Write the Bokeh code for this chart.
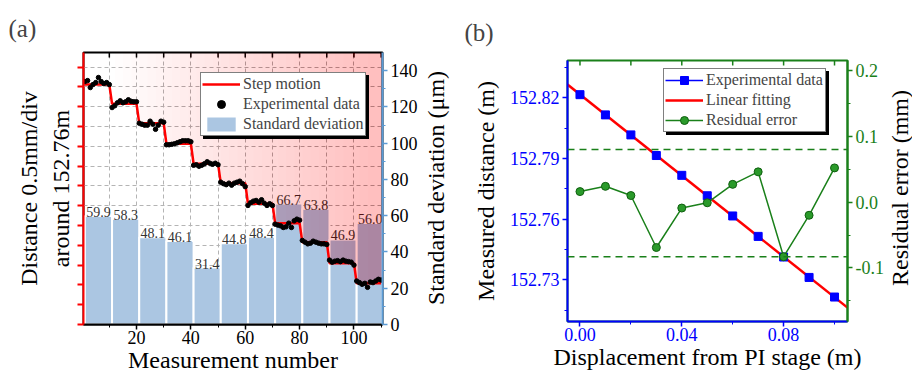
import math
import numpy as np
from bokeh.plotting import figure
from bokeh.models import (Range1d, LinearAxis, FixedTicker, Legend, LegendItem,
                          Span, CustomJSTickFormatter, ColumnDataSource, NumeralTickFormatter)
from bokeh.layouts import row, column
from bokeh.embed import file_html
from bokeh.resources import INLINE
from bokeh.core.properties import value

SERIF = "Liberation Serif"

# ---------------- panel (a) data ----------------
measurement_number = list(range(1, 111))
step_levels_mm = [6.06, 5.575, 5.085, 4.565, 4.06, 3.57, 3.05, 2.56, 2.08, 1.55, 1.04]
exp_points_mm = [
    6.136, 6.160, 5.985, 6.060, 6.110, 6.237, 6.136, 6.085, 6.110, 6.060,
    5.480, 5.525, 5.600, 5.650, 5.600, 5.625, 5.676, 5.638, 5.625, 5.625,
    5.085, 5.060, 5.035, 5.035, 5.135, 5.060, 4.930, 5.035, 5.135, 5.110,
    4.540, 4.540, 4.552, 4.565, 4.590, 4.616, 4.641, 4.641, 4.641, 4.616,
    4.022, 4.035, 3.997, 4.022, 4.060, 4.110, 4.073, 4.047, 4.073, 4.035,
    3.595, 3.557, 3.532, 3.570, 3.520, 3.570, 3.595, 3.620, 3.557, 3.482,
    3.007, 3.075, 3.116, 3.133, 3.090, 3.151, 3.065, 3.007, 3.050, 3.007,
    2.535, 2.510, 2.492, 2.451, 2.466, 2.560, 2.451, 2.618, 2.661, 2.636,
    2.123, 2.080, 2.037, 2.055, 2.105, 2.080, 2.055, 2.037, 2.037, 2.022,
    1.626, 1.575, 1.600, 1.613, 1.588, 1.626, 1.600, 1.588, 1.575, 1.500,
    1.098, 1.058, 1.015, 1.040, 0.939, 1.073, 1.058, 1.098, 1.141, 1.123,
]
std_dev_um = [59.9, 58.3, 48.1, 46.1, 31.4, 44.8, 48.4, 66.7, 63.8, 46.9, 56.0]
std_labels = ["59.9", "58.3", "48.1", "46.1", "31.4", "44.8", "48.4", "66.7", "63.8", "46.9", "56.0"]
x_ticks_a = [20, 40, 60, 80, 100]
top_ticks_a = [10, 20, 30, 40, 50, 60, 70, 80, 90, 100, 110]
std_ticks = [0, 20, 40, 60, 80, 100, 120, 140]

# ---------------- panel (b) data ----------------
displacement_m = [0.00, 0.01, 0.02, 0.03, 0.04, 0.05, 0.06, 0.07, 0.08, 0.09, 0.10]
measured_m = [152.8216, 152.8116, 152.8017, 152.7915, 152.7817, 152.7716,
              152.7616, 152.7515, 152.7413, 152.7312, 152.7215]
residual_mm = [0.016, 0.024, 0.010, -0.069, -0.009, -0.001, 0.027, 0.046, -0.083, -0.020, 0.052]
residual_limits_mm = [0.08, -0.083]
dist_ticks = [152.73, 152.76, 152.79, 152.82]
res_ticks = [-0.1, 0.0, 0.1, 0.2]
disp_ticks = [0.00, 0.04, 0.08]
top_ticks_b = [0.00, 0.02, 0.04, 0.06, 0.08, 0.10]


def style_title(p, text, offset, standoff):
    p.title.text = text
    p.title.align = "left"
    p.title.offset = offset
    p.title.text_font = SERIF
    p.title.text_font_size = "25px"
    p.title.text_font_style = "normal"
    p.title.standoff = standoff


def style_axis(ax, color, label_color, size="18px"):
    ax.axis_line_color = color
    ax.axis_line_width = 2
    ax.major_tick_line_color = color
    ax.minor_tick_line_color = color
    ax.major_tick_line_width = 1.5
    ax.major_tick_out = 5
    ax.major_tick_in = 0
    ax.minor_tick_out = 3
    ax.minor_tick_in = 0
    ax.major_label_text_color = label_color
    ax.major_label_text_font = SERIF
    ax.major_label_text_font_size = size
    ax.axis_label_text_font = SERIF
    ax.axis_label_text_font_size = "24px"
    ax.axis_label_text_font_style = "normal"
    ax.axis_label_text_color = "black"


def style_legend(leg, shadow=False, label_width=20):
    leg.label_text_font = SERIF
    leg.label_text_font_size = "16px"
    leg.glyph_width = 38
    leg.glyph_height = 20
    leg.label_height = 20
    leg.label_standoff = 3
    leg.spacing = 0
    leg.padding = 1
    leg.margin = 0
    leg.border_line_color = "black"
    leg.border_line_width = 1
    leg.background_fill_alpha = 1
    leg.click_policy = "none"
    leg.label_width = label_width
    if shadow:
        leg.background_fill_color = "black"
        leg.label_text_color = "black"


def title_strip(text, width):
    """Narrow figure that only carries a vertical (bottom-to-top) axis title."""
    s = figure(width=width, height=375, output_backend="svg", toolbar_location=None,
               title=None, x_range=Range1d(0, 1), y_range=Range1d(0, 1),
               min_border_left=0, min_border_right=0, min_border_top=0, min_border_bottom=0)
    s.xaxis.visible = False
    s.yaxis.visible = False
    s.xgrid.visible = False
    s.ygrid.visible = False
    s.outline_line_color = None
    s.text(x=[0.5], y=[0.5], text=[text], angle=math.pi / 2, text_align="center",
           text_baseline="middle", text_font=value(SERIF), text_font_size="24px",
           text_color="black")
    return s


# =============== panel (a) ===============
XA0, XA1 = 0.5, 110.5
YA0, YA1 = 0.0, 6.87
pa = figure(width=420, height=375, output_backend="svg", toolbar_location=None,
            x_range=Range1d(XA0, XA1), y_range=Range1d(YA0, YA1),
            min_border_left=83, min_border_right=38, min_border_top=52, min_border_bottom=51)
pa.extra_y_ranges = {"std": Range1d(0, 150)}
pa.outline_line_color = "black"
pa.outline_line_width = 2
style_title(pa, "(a)", -75, 22)

pa.xgrid.ticker = FixedTicker(ticks=list(range(10, 110, 10)))
pa.ygrid.ticker = FixedTicker(ticks=[i * 0.5 for i in range(1, 14)])
for g in (pa.xgrid, pa.ygrid):
    g.grid_line_color = "#b4b4b4"
    g.grid_line_dash = "4 3"
    g.grid_line_width = 1

la = pa.yaxis[0]
style_axis(la, "red", "black")
la.ticker = FixedTicker(ticks=[i * 0.5 for i in range(0, 14)])
la.formatter = CustomJSTickFormatter(code="return ''")
la.major_tick_line_width = 2
la.major_tick_out = 6
la.minor_tick_line_color = None
la.major_label_text_font_size = "0px"
la.major_label_standoff = 0
la.axis_label = "Distance 0.5mm/div\naround 152.76m"
la.axis_label_standoff = 4

ba = pa.xaxis[0]
style_axis(ba, "black", "black")
ba.ticker = FixedTicker(ticks=x_ticks_a, minor_ticks=[10, 30, 50, 70, 90, 110])
ba.major_label_standoff = 1
ba.axis_label = "Measurement number"
ba.axis_label_standoff = 0

ra = LinearAxis(y_range_name="std", ticker=FixedTicker(ticks=std_ticks,
                minor_ticks=list(range(10, 150, 20))))
style_axis(ra, "#5b9bd5", "black")
ra.major_label_standoff = 3
pa.add_layout(ra, "right")

# top frame ticks (pointing inward)
tick_len_a = 0.018 * (YA1 - YA0)
pa.segment(x0=top_ticks_a, x1=top_ticks_a, y0=[YA1] * len(top_ticks_a),
           y1=[YA1 - tick_len_a] * len(top_ticks_a), line_color="black", line_width=1.5)

# bars: standard deviation of each group of 10 measurements
groups = np.array(measurement_number).reshape(len(std_dev_um), -1)
group_center = groups.mean(axis=1) + 0.5
bar_src = ColumnDataSource(dict(x=group_center, top=std_dev_um, lab=std_labels))
bars = pa.vbar(x="x", top="top", width=10, bottom=0, source=bar_src, y_range_name="std",
               fill_color="#abc6e2", line_color="white", line_width=2)
pa.text(x="x", y="top", text="lab", source=bar_src, y_range_name="std",
        text_font=value(SERIF), text_font_size="14px", text_color="#333333",
        text_align="center", text_baseline="bottom", y_offset=1)

# step curve
step_x, step_y = [], []
for k, lev in enumerate(step_levels_mm):
    step_x += [groups[k][0], groups[k][-1]]
    step_y += [lev, lev]
curve_x = np.array([XA0] + step_x + [XA1], dtype=float)
curve_y = np.array([step_levels_mm[0]] + step_y + [step_levels_mm[-1]], dtype=float)

# left-to-right gradient above the step curve (stacked translucent layers)
starts = np.arange(12.0, 108.0, 3.0)
a_each = 1 - (1 - 0.27) ** (1.0 / len(starts))
gx, gy = [], []
for s in starts:
    m = curve_x > s
    gx.append([s] + list(curve_x[m]) + [XA1, s])
    gy.append([float(np.interp(s, curve_x, curve_y))] + list(curve_y[m]) + [YA1, YA1])
pa.patches(gx, gy, fill_color="red", fill_alpha=a_each, line_color=None)

step_r = pa.line(step_x, step_y, line_color="red", line_width=2.5)
pts_r = pa.scatter(measurement_number, exp_points_mm, size=4.5, marker="circle",
                   fill_color="black", line_color="black")
dummy_a = pa.line(step_x, step_y, line_alpha=0)

LEG_A_W = 121
shadow_a = Legend(items=[LegendItem(label=" ", renderers=[dummy_a]) for _ in range(3)],
                  location=(120, 185))
style_legend(shadow_a, shadow=True, label_width=LEG_A_W)
pa.add_layout(shadow_a)
leg_a = Legend(items=[LegendItem(label="Step motion", renderers=[step_r]),
                      LegendItem(label="Experimental data", renderers=[pts_r]),
                      LegendItem(label="Standard deviation", renderers=[bars])],
               location=(117, 188))
style_legend(leg_a, label_width=LEG_A_W)
pa.add_layout(leg_a)

strip_a = title_strip("Standard deviation (\u03bcm)", 30)

# =============== panel (b) ===============
XB0, XB1 = -0.0049, 0.1051
YB0, YB1 = 152.7094, 152.8385
pb = figure(width=436, height=375, output_backend="svg", toolbar_location=None,
            x_range=Range1d(XB0, XB1), y_range=Range1d(YB0, YB1),
            min_border_left=117, min_border_right=39, min_border_top=60, min_border_bottom=54)
pb.extra_y_ranges = {"res": Range1d(-0.1815, 0.2153)}
pb.xgrid.visible = False
pb.ygrid.visible = False
style_title(pb, "(b)", -103, 30)

BLUE = "#0000ff"
GREEN = "#1a801a"
pb.outline_line_color = GREEN
pb.outline_line_width = 2

lb = pb.yaxis[0]
style_axis(lb, BLUE, BLUE)
lb.ticker = FixedTicker(ticks=dist_ticks, minor_ticks=[152.715, 152.745, 152.775, 152.805, 152.835])
lb.formatter = NumeralTickFormatter(format="0.00")
lb.major_label_standoff = 3
lb.axis_label = "Measured distance (m)"
lb.axis_label_standoff = 8

bb = pb.xaxis[0]
style_axis(bb, BLUE, BLUE)
bb.ticker = FixedTicker(ticks=disp_ticks, minor_ticks=[0.02, 0.06, 0.10])
bb.formatter = NumeralTickFormatter(format="0.00")
bb.major_label_standoff = 1
bb.axis_label = "Displacement from PI stage (m)"
bb.axis_label_standoff = 0

rb = LinearAxis(y_range_name="res", ticker=FixedTicker(ticks=res_ticks,
                minor_ticks=[-0.15, -0.05, 0.05, 0.15]))
style_axis(rb, GREEN, GREEN)
rb.formatter = NumeralTickFormatter(format="0.0")
rb.major_label_standoff = 3
pb.add_layout(rb, "right")

tick_len_b = 0.019 * (YB1 - YB0)
pb.segment(x0=top_ticks_b, x1=top_ticks_b, y0=[YB1] * len(top_ticks_b),
           y1=[YB1 - tick_len_b] * len(top_ticks_b), line_color=GREEN, line_width=1.5)

for lim in residual_limits_mm:
    pb.add_layout(Span(location=lim, dimension="width", y_range_name="res",
                       line_color=GREEN, line_dash="7 5", line_width=1.5))

# linear fit of the experimental data
slope, intercept = np.polyfit(displacement_m, measured_m, 1)
fit_x = [XB0, XB1]
fit_y = [intercept + slope * v for v in fit_x]

exp_line = pb.line(displacement_m, measured_m, line_color=BLUE, line_width=1.5, visible=False)
fit_r = pb.line(fit_x, fit_y, line_color="red", line_width=2.5)
exp_r = pb.scatter(displacement_m, measured_m, marker="square", size=8,
                   fill_color=BLUE, line_color=BLUE)
res_line = pb.line(displacement_m, residual_mm, y_range_name="res", line_color=GREEN, line_width=1.5)
res_pts = pb.scatter(displacement_m, residual_mm, y_range_name="res", marker="circle", size=8,
                     fill_color="#2a9a2a", line_color="#0f5f0f", line_width=1)
dummy_b = pb.line(fit_x, fit_y, line_alpha=0)

LEG_B_W = 118
shadow_b = Legend(items=[LegendItem(label=" ", renderers=[dummy_b]) for _ in range(3)],
                  location=(99, 186))
style_legend(shadow_b, shadow=True, label_width=LEG_B_W)
pb.add_layout(shadow_b)
leg_b = Legend(items=[LegendItem(label="Experimental data", renderers=[exp_line, exp_r]),
                      LegendItem(label="Linear fitting", renderers=[fit_r]),
                      LegendItem(label="Residual error", renderers=[res_line, res_pts])],
               location=(96, 189))
style_legend(leg_b, label_width=LEG_B_W)
pb.add_layout(leg_b)

strip_b = title_strip("Residual error (mm)", 26)

layout = row(column(pa), column(strip_a), column(pb), column(strip_b))
open("out.html", "w").write(file_html(layout, INLINE))
